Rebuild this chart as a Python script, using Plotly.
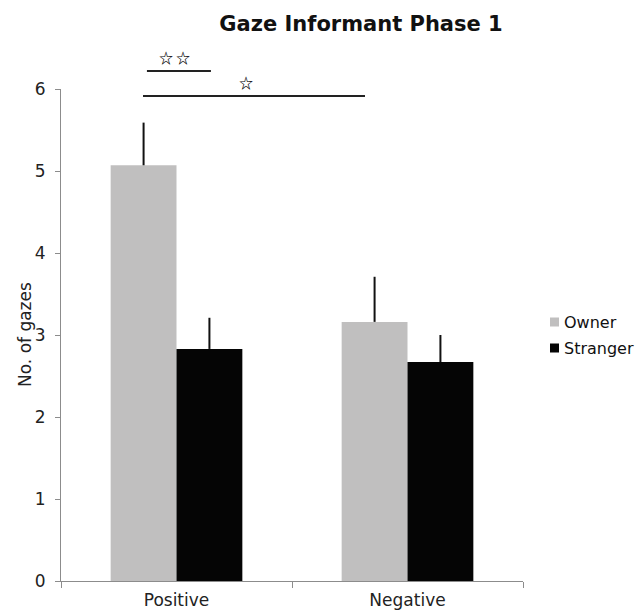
import plotly.graph_objects as go

# Data
conditions = ["Positive", "Negative"]
owner_means = [5.07, 3.16]
owner_err = [0.52, 0.55]
stranger_means = [2.83, 2.67]
stranger_err = [0.38, 0.33]
y_ticks = [0, 1, 2, 3, 4, 5, 6]

OWNER_COLOR = "#c0bfbf"
STRANGER_COLOR = "#050505"
FONT = "DejaVu Sans"
STAR_FONT = "Noto Sans CJK JP"
YMAX = 6

W, H = 640, 613
L, R, T, B = 61, 117, 89, 32
PW, PH = W - L - R, H - T - B


def px_x(px):
    return (px - L) / PW


def px_y(py):
    return (H - B - py) / PH


fig = go.Figure()
for name, means, errs, color in [
    ("Owner", owner_means, owner_err, OWNER_COLOR),
    ("Stranger", stranger_means, stranger_err, STRANGER_COLOR),
]:
    fig.add_trace(go.Bar(
        name=name, x=conditions, y=means,
        marker=dict(color=color, line=dict(width=0)),
        error_y=dict(type="data", symmetric=False, array=errs,
                     arrayminus=[0] * len(errs), color="#111111",
                     thickness=2, width=0),
        showlegend=False,
    ))

# Significance brackets: (x start, x end, height) in data units
brackets = [(-0.128, 0.149, 6.22), (-0.145, 0.816, 5.915)]
for x0, x1, yv in brackets:
    fig.add_shape(type="line", xref="x", yref="paper",
                  x0=x0, x1=x1, y0=yv / YMAX, y1=yv / YMAX,
                  line=dict(color="#222222", width=2))

# Significance stars: (x, height), in data units
star_marks = [(-0.047, 6.39), (0.030, 6.39), (0.30, 6.085)]
for xv, yv in star_marks:
    fig.add_annotation(x=px_x(L + (xv + 0.5) * PW / 2), y=yv / YMAX,
                       xref="paper", yref="paper", text="<b>☆</b>",
                       showarrow=False, font=dict(family=STAR_FONT, size=14, color="#000000"),
                       xanchor="center", yanchor="middle")

# Key
key_rows = [("Owner", OWNER_COLOR, 322), ("Stranger", STRANGER_COLOR, 348)]
for label, color, cy in key_rows:
    fig.add_shape(type="rect", xref="paper", yref="paper",
                  x0=px_x(550), x1=px_x(559), y0=px_y(cy + 4.5), y1=px_y(cy - 4.5),
                  fillcolor=color, line=dict(width=0))
    fig.add_annotation(x=px_x(562), y=px_y(cy), xref="paper", yref="paper",
                       text=label, showarrow=False, xanchor="left", yanchor="middle",
                       font=dict(family=FONT, size=16, color="#111111"))

# Y axis title
fig.add_annotation(x=px_x(25), y=0.5, xref="paper", yref="paper",
                   text="No. of gazes", textangle=-90, showarrow=False,
                   xanchor="center", yanchor="middle",
                   font=dict(family=FONT, size=17, color="#222222"))

fig.update_layout(
    width=W, height=H,
    margin=dict(l=L, r=R, t=T, b=B, autoexpand=False),
    paper_bgcolor="white", plot_bgcolor="white",
    barmode="group", bargap=0.43, bargroupgap=0,
    font=dict(family=FONT, size=17, color="#222222"),
    title=dict(text="<b>Gaze Informant Phase 1</b>", x=361 / W, xref="container",
               xanchor="center", y=1 - 24 / H, yanchor="middle",
               font=dict(family=FONT, size=21, color="#111111")),
    xaxis=dict(type="category", range=[-0.5, 1.5], showline=True, linecolor="#8c8c8c",
               linewidth=1, ticks="outside", tickson="boundaries", ticklen=6,
               tickcolor="#8c8c8c", showgrid=False, zeroline=False, automargin=False,
               ticklabelstandoff=4,
               tickfont=dict(family=FONT, size=17, color="#222222")),
    yaxis=dict(range=[0, YMAX], tickvals=y_ticks, showline=True, linecolor="#8c8c8c",
               linewidth=1, ticks="outside", ticklen=5, tickcolor="#8c8c8c",
               showgrid=False, zeroline=False, ticklabelstandoff=6, automargin=False,
               tickfont=dict(family=FONT, size=17, color="#222222")),
)

fig.write_html("out.html")
